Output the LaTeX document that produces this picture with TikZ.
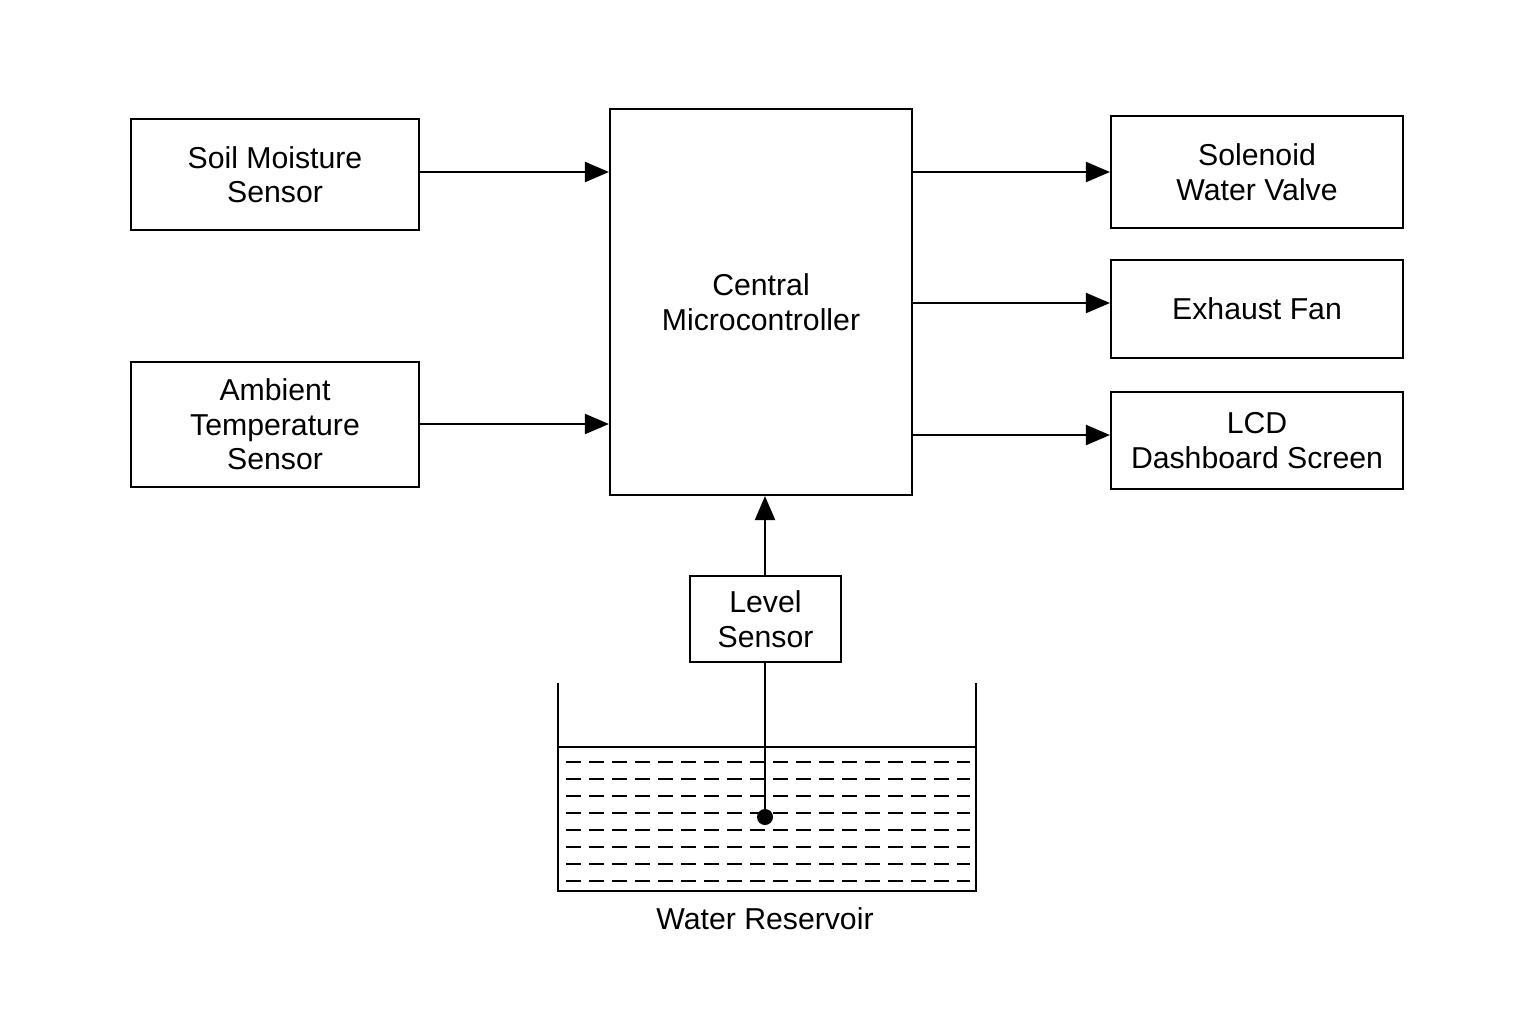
\documentclass[tikz,border=0pt]{standalone}
\usepackage{fontspec}
\setmainfont{Liberation Sans}
\usetikzlibrary{arrows.meta}
\usetikzlibrary{positioning}
\tikzset{
% standard arrow tip
>={Triangle[length=0.24cm, width=0.2cm]}
}
\begin{document}
\begin{tikzpicture}[line width=0.6pt,
    blk/.style={rectangle, draw=black, align=center, inner sep=0,
      font=\fontsize{8.6}{9.8}\selectfont}]
  \useasboundingbox (0,0) rectangle (15.36,-10.24);

  % inputs
  \node[blk, minimum width=2.88cm, minimum height=1.11cm] (soil) at (2.75,-1.745) {Soil Moisture\\Sensor};
  \node[blk, minimum width=2.88cm, minimum height=1.25cm] (amb) at (2.75,-4.245) {Ambient\\Temperature\\Sensor};

  % controller
  \node[blk, minimum width=3.02cm, minimum height=3.86cm] (mcu) at (7.61,-3.02) {Central\\Microcontroller};

  % outputs
  \node[blk, minimum width=2.92cm, minimum height=1.12cm] (valve) at (12.57,-1.72) {Solenoid\\Water Valve};
  \node[blk, minimum width=2.92cm, minimum height=0.98cm] (fan) at (12.57,-3.09) {Exhaust Fan};
  \node[blk, minimum width=2.92cm, minimum height=0.97cm] (lcd) at (12.57,-4.405) {LCD\\Dashboard Screen};

  \node[blk, minimum width=1.51cm, minimum height=0.86cm] (level) at (7.655,-6.19) {Level\\Sensor};

  \draw[->] (soil.east |- 0,-1.72) -- (mcu.west |- 0,-1.72);
  \draw[->] (amb.east |- 0,-4.24) -- (mcu.west |- 0,-4.24);
  \draw[->] (mcu.east |- valve) -- (valve.west);
  \draw[->] (mcu.east |- 0,-3.03) -- (fan.west |- 0,-3.03);
  \draw[->] (mcu.east |- 0,-4.35) -- (lcd.west |- 0,-4.35);
  \draw[->] (level.north -| 7.65,0) -- (mcu.south -| 7.65,0);

  % reservoir
  \foreach \y in {7.62,7.79,7.96,8.13,8.30,8.47,8.64,8.81}
    \draw[line width=0.4pt, dash pattern=on 0.15cm off 0.08cm] (5.66,-\y) -- (9.70,-\y);
  \draw (5.58,-6.83) -- (5.58,-8.91) -- (9.76,-8.91) -- (9.76,-6.83);
  \draw (5.58,-7.47) -- (9.76,-7.47);
  \coordinate (probe) at (7.65,-8.17);
  \draw (level.south -| probe) -- (probe);
  \fill (probe) circle (0.08);
  \node[font=\fontsize{8.6}{9.8}\selectfont] (res) at (7.65,-9.19) {Water Reservoir};
\end{tikzpicture}
\end{document}
